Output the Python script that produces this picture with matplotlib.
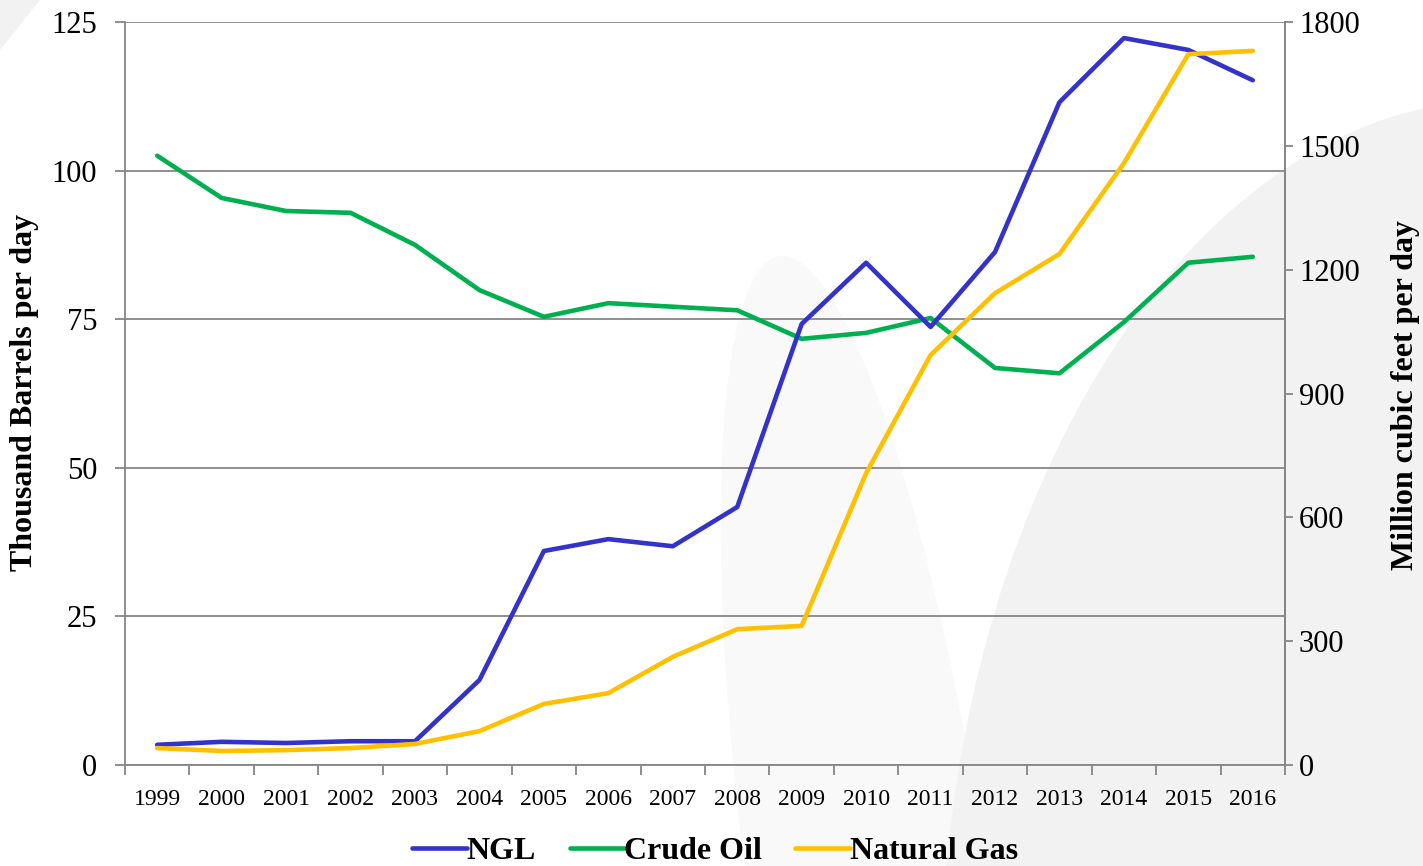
import matplotlib
matplotlib.use("Agg")
import matplotlib.pyplot as plt
from matplotlib.patches import Ellipse, Polygon
import numpy as np

years = ["1999", "2000", "2001", "2002", "2003", "2004", "2005", "2006", "2007",
         "2008", "2009", "2010", "2011", "2012", "2013", "2014", "2015", "2016"]
ngl = [3.4, 3.9, 3.7, 4.0, 4.0, 14.3, 36.0, 38.0, 36.8, 43.4, 74.2, 84.5, 73.7,
       86.3, 111.5, 122.3, 120.3, 115.2]
crude = [102.5, 95.4, 93.2, 92.9, 87.5, 79.9, 75.4, 77.7, 77.1, 76.5, 71.7, 72.7,
         75.2, 66.8, 65.9, 74.5, 84.5, 85.5]
gas = [41, 34, 36, 41, 51, 82, 148, 174, 262, 329, 337, 707, 993, 1143, 1238,
       1458, 1722, 1730]

left_ticks = [0, 25, 50, 75, 100, 125]
right_ticks = [0, 300, 600, 900, 1200, 1500, 1800]

plt.rcParams['font.family'] = ['Liberation Serif', 'DejaVu Serif']

W, H = 1423, 866
fig = plt.figure(figsize=(W / 100, H / 100), dpi=100)

# faint watermark background shapes
bg = fig.add_axes([0, 0, 1, 1], zorder=-10)
bg.set_xlim(0, W)
bg.set_ylim(H, 0)
bg.axis('off')
bg.add_patch(Ellipse((870, 900), 240, 1300, color='#f9f9f9', lw=0, angle=-8))
bg.add_patch(Ellipse((1500, 1000), 1120, 1800, color='#f3f2f2', lw=0))
bg.add_patch(Polygon([[0, 0], [40, 0], [0, 50]], closed=True, color='#f3f2f2', lw=0))

gray = '#868686'
ax = fig.add_axes([125 / W, 1 - 765 / H, 1160 / W, 743 / H])
ax.patch.set_alpha(0)
x = np.arange(len(years))

ax.plot(x, crude, color='#00b050', lw=3.3, solid_capstyle='round', zorder=3)
ax.plot(x, ngl, color='#3333cc', lw=3.3, solid_capstyle='round', zorder=4)

ax.set_xlim(-0.5, len(years) - 0.5)
ax.set_ylim(0, 125)
ax.set_yticks(left_ticks)
ax.set_yticklabels([str(t) for t in left_ticks], fontsize=22)
ax.set_xticks(np.arange(-0.5, len(years), 1.0))
ax.set_xticklabels([])
ax.set_xticks(x, minor=True)
ax.set_xticklabels(years, minor=True, fontsize=17)
ax.tick_params(axis='x', which='major', length=7, color=gray, width=1.3, direction='out')
ax.tick_params(axis='x', which='minor', length=0, pad=17)
ax.tick_params(axis='y', length=7, color=gray, width=1.3, pad=13)
ax.grid(axis='y', color=gray, lw=1.3)
ax.set_axisbelow(True)
ax.spines['top'].set_visible(False)
for s in ['left', 'right', 'bottom']:
    ax.spines[s].set_color(gray)
    ax.spines[s].set_linewidth(1.3)

fig.text(25 / W, 1 - 392 / H, 'Thousand Barrels per day', rotation=90,
         fontsize=23, fontweight='bold', ha='center', va='center')

ax2 = ax.twinx()
ax2.plot(x, gas, color='#ffc000', lw=3.3, solid_capstyle='round', zorder=2)
ax2.set_ylim(0, 1800)
ax2.set_yticks(right_ticks)
ax2.set_yticklabels([str(t) for t in right_ticks], fontsize=22)
ax2.tick_params(axis='y', length=6, color=gray, width=1.3, pad=4)
for s in ['top', 'left', 'bottom']:
    ax2.spines[s].set_visible(False)
ax2.spines['right'].set_color(gray)
ax2.spines['right'].set_linewidth(1.3)

fig.text(1405 / W, 1 - 395 / H, 'Million cubic feet per day', rotation=90,
         fontsize=23, fontweight='bold', ha='center', va='center')

handles = [ax.lines[1], ax.lines[0], ax2.lines[0]]
fig.legend(handles, ['NGL', 'Crude Oil', 'Natural Gas'], loc='center',
           bbox_to_anchor=(715 / W, 1 - 851 / H), ncol=3, frameon=False,
           prop={'family': 'Liberation Serif', 'weight': 'bold', 'size': 23},
           handlelength=1.7, handletextpad=0.0, columnspacing=1.05)

fig.savefig('out.png', dpi=100)
